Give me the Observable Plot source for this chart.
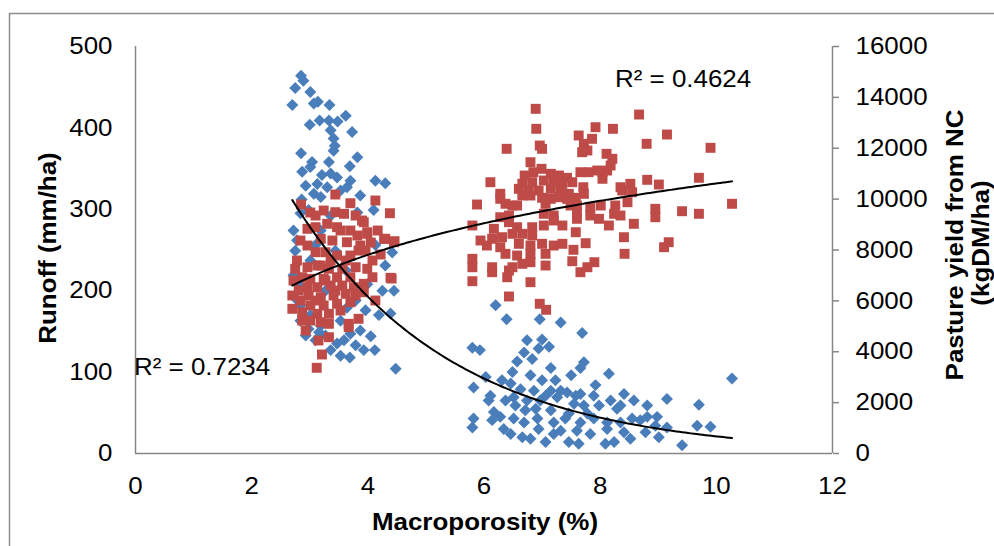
<!DOCTYPE html>
<html><head><meta charset="utf-8">
<script src="https://cdn.jsdelivr.net/npm/d3@7"></script>
<script src="https://cdn.jsdelivr.net/npm/@observablehq/plot@0.6"></script>
<style>html,body{margin:0;padding:0;background:#fff;} #chart{width:994px;height:546px;overflow:hidden}</style>
</head><body><div id="chart"></div>
<script>
// ---- Data ----
// Runoff (mm/ha) vs macroporosity (%) — left axis, blue diamonds
const runoffLow = [
[2.85,464],[2.89,458],[2.75,449],[3.01,444],[2.70,428],[3.07,430],[3.14,432],[3.34,428],[3.62,415],[3.17,409],
[3.00,404],[3.33,409],[3.48,408],[3.73,395],[3.36,397],[3.41,387],[3.43,378],[3.41,372],[2.85,369],[3.82,364],
[3.04,358],[3.33,358],[3.69,353],[2.87,346],[3.01,352],[3.21,342],[3.36,344],[3.47,339],[3.13,331],[4.13,335],
[4.30,332],[3.30,327],[3.64,327],[3.19,315],[2.86,312],[4.10,299],[2.84,295],[2.98,299],[3.82,296],[2.78,262],
[3.07,319],[3.53,323],[2.93,329],[3.87,317],[3.70,335],[2.72,274],[2.75,249],[2.72,219],[2.84,206],[2.79,188],
[4.25,200],[4.45,200],[4.19,170],[4.39,172],[3.99,208],[4.42,247],[4.30,231],[4.13,256],[3.64,179],[4.05,144],
[3.79,133],[3.93,127],[4.12,127],[3.69,118],[4.48,104],[3.59,139],[3.47,135],[3.16,149],[2.98,153],[3.87,151],
[3.70,147],[2.84,163],[2.93,145],[3.10,139],[3.27,145],[3.36,127],[3.53,120],[3.19,157],[3.01,170],[2.84,182],
[3.19,274],[3.44,249],[3.62,225],[3.27,200],[3.01,237],[3.79,188],[3.53,163],[3.96,176],[3.36,292],[3.10,256]
];
const runoffHigh = [
[6.20,182],[6.39,165],[6.96,165],[7.32,161],[7.69,148],[5.80,130],[5.93,127],[6.74,139],[7.00,140],[7.12,131],
[6.69,124],[6.83,116],[6.57,113],[6.94,129],[7.72,112],[7.66,105],[7.15,105],[7.50,96],[8.15,98],[10.27,92],
[5.82,81],[6.03,94],[6.31,90],[6.46,86],[6.63,79],[6.86,77],[7.00,90],[7.15,77],[7.32,77],[7.43,75],
[6.37,65],[6.51,69],[6.74,65],[6.97,65],[7.26,69],[7.66,73],[7.89,71],[8.41,73],[8.58,65],[8.81,59],
[9.15,67],[9.70,60],[8.98,45],[8.18,65],[8.29,55],[7.98,59],[7.72,59],[7.55,61],[7.78,49],[7.46,49],
[7.15,53],[6.89,55],[6.71,53],[6.17,51],[5.82,43],[5.80,32],[6.14,41],[6.28,45],[6.51,43],[6.69,38],
[6.92,43],[7.20,38],[7.40,43],[7.66,38],[7.89,43],[8.12,38],[8.35,38],[8.55,43],[8.81,45],[8.95,34],
[9.15,32],[9.67,34],[9.90,33],[6.34,30],[6.46,24],[6.66,20],[6.80,18],[7.06,14],[7.20,24],[7.46,14],
[7.63,12],[7.83,24],[8.09,12],[8.24,14],[8.52,18],[8.78,26],[9.01,20],[9.41,10],[8.12,30],[8.41,26],
[7.60,28],[6.94,30],[7.32,28],[6.11,71],[6.54,59],[7.06,71],[6.80,96],[7.23,90],[7.92,84],[8.35,59],
[8.69,41],[7.58,71],[6.49,100],[6.08,65]
];
// Pasture yield from NC (kgDM/ha) vs macroporosity (%) — right axis, red squares
const yieldLow = [
[3.44,10181],[2.85,9788],[3.70,9839],[4.13,9945],[4.38,9446],[3.24,9552],[3.44,9486],[3.59,9423],[3.90,9159],[3.99,8699],
[4.17,8766],[4.30,8440],[4.46,8346],[2.96,8833],[3.10,8896],[3.30,9030],[3.47,8896],[3.70,8766],[3.82,8570],[3.19,8440],
[3.39,8373],[3.64,8306],[3.84,7980],[4.22,7823],[4.08,7587],[2.96,8176],[3.10,7913],[3.27,7913],[3.47,7783],[3.70,7783],
[2.78,7587],[2.75,7261],[2.96,7323],[3.13,7390],[3.33,7261],[3.56,7261],[3.79,7323],[3.99,7261],[4.08,6930],[3.70,6930],
[3.47,6930],[3.24,6867],[3.01,6867],[2.87,6930],[4.39,6907],[3.93,6671],[3.76,6537],[3.56,6604],[3.36,6604],[3.13,6537],
[2.96,6537],[2.81,6408],[3.93,6341],[3.79,6211],[3.62,6278],[3.41,6211],[3.19,6144],[2.98,6211],[2.84,6014],[3.70,5948],
[3.47,5885],[3.24,5818],[3.01,5818],[2.70,5688],[2.87,5555],[3.13,5492],[3.33,5492],[3.01,5228],[2.87,5228],[3.19,5161],
[3.33,5099],[3.67,5099],[3.84,5295],[3.33,4572],[4.41,6879],[3.21,3892],[3.12,3369],[3.67,4965],[3.93,9093],[4.45,8306],
[4.28,8440],[3.99,8636],[3.10,9355],[3.53,8766],[3.87,8176],[2.84,8373],[3.62,7587],[3.19,7390],[3.44,6408],[3.27,6800],
[3.53,5621],[3.10,6014],[2.93,4835],[3.15,4442],[3.36,7587],[3.79,9355],[3.96,7980],[2.72,6800],[2.70,6211],[4.13,6014],
[4.05,8294],[3.01,9474]
];
const yieldHigh = [
[6.89,13550],[8.67,13326],[6.90,12764],[7.92,12827],[8.22,12764],[9.15,12540],[6.39,11978],[6.96,12107],[7.00,11978],[7.63,12501],
[7.86,12371],[7.72,12174],[7.69,11844],[7.78,11911],[8.80,12174],[9.90,12017],[8.11,11781],[8.21,11585],[6.80,11451],[8.18,11321],
[8.04,11058],[8.12,11125],[6.70,10928],[6.85,11058],[6.99,11192],[7.15,10995],[7.29,10928],[7.43,10838],[7.66,11058],[7.80,11058],
[7.95,11125],[8.04,10799],[6.11,10665],[6.66,10602],[6.83,10665],[7.03,10732],[7.20,10665],[7.35,10602],[7.52,10665],[7.71,10468],
[8.35,10468],[8.52,10602],[8.81,10759],[9.01,10574],[9.70,10838],[6.60,10405],[6.77,10339],[6.94,10339],[7.15,10405],[7.32,10339],
[7.46,10209],[7.72,10209],[6.28,10209],[8.38,10339],[8.55,10272],[5.88,9788],[6.28,10012],[6.37,9816],[6.66,10142],[6.80,10142],
[7.00,10052],[7.15,10012],[7.29,10075],[7.43,10012],[7.58,10052],[7.06,9816],[6.49,9749],[6.57,9749],[7.49,9749],[7.60,9749],
[7.83,9682],[8.01,9749],[8.26,9749],[8.47,9879],[10.27,9816],[8.95,9619],[9.41,9525],[9.70,9423],[8.95,9289],[6.28,9289],
[6.43,9356],[7.03,9423],[7.20,9356],[7.60,9486],[7.83,9356],[7.98,9226],[8.24,9423],[8.35,9356],[5.80,8963],[6.17,8833],
[6.43,9093],[6.57,8896],[6.83,8896],[7.03,8963],[7.20,9159],[7.35,8963],[7.60,9226],[8.15,8963],[8.58,9030],[7.58,8699],
[5.94,8373],[6.14,8440],[6.31,8503],[6.49,8636],[6.66,8636],[6.83,8570],[8.41,8503],[6.05,8176],[6.28,8110],[6.60,8243],
[6.80,8176],[7.00,8243],[7.20,8176],[7.35,8243],[7.75,8267],[9.18,8306],[9.10,8110],[6.37,7850],[6.57,7783],[6.80,7850],
[7.06,7850],[7.54,8007],[8.42,7850],[5.80,7654],[5.80,7323],[6.14,7323],[6.14,7127],[6.49,7323],[6.66,7457],[6.80,7520],
[7.06,7390],[7.52,7559],[7.66,7127],[7.78,7323],[7.90,7520],[5.80,6773],[6.40,6930],[6.80,6734],[6.43,7194],[6.43,6172],
[6.96,5885],[7.07,5649]
];
// Excel trendlines as labelled on the chart
const runoffTrend = {a: 843, b: -0.369, label: "R² = 0.7234"};   // exponential: a·e^(b·x)
const yieldTrend  = {a: 3064, b: 3561, label: "R² = 0.4624"};    // logarithmic: a·ln(x)+b
// Axis ticks
const xTicks = [0, 2, 4, 6, 8, 10, 12];
const runoffTicks = [0, 100, 200, 300, 400, 500];
const yieldTicks = [0, 2000, 4000, 6000, 8000, 10000, 12000, 14000, 16000];
const runoffMax = 500, yieldMax = 16000;
const ratio = yieldMax / runoffMax;

// ---- Build ----
const blue = "#4A7EBB", red = "#BE4B48", gray = "#868686";
const FONT = "'Liberation Sans', Arial, sans-serif";
const runoffData = [...runoffLow, ...runoffHigh].map(([x, y]) => ({x, y}));
const yieldData = [...yieldLow, ...yieldHigh].map(([x, kg]) => ({x, kg, y: kg / ratio}));

function fitCurve(data, f) {
  const [x0, x1] = d3.extent(data, d => d.x);
  return d3.range(0, 151).map(i => { const x = x0 + (x1 - x0) * i / 150; return {x, y: f(x)}; });
}
const runoffFit = fitCurve(runoffData, x => runoffTrend.a * Math.exp(runoffTrend.b * x));
const yieldFit = fitCurve(yieldData, x => (yieldTrend.a * Math.log(x) + yieldTrend.b) / ratio);

const plot = Plot.plot({
  width: 994, height: 546,
  marginLeft: 135, marginRight: 162, marginTop: 46, marginBottom: 93,
  style: {fontFamily: FONT, fontSize: "24px", color: "#000", background: "transparent", overflow: "visible"},
  x: {domain: [0, 12], label: null},
  y: {domain: [0, runoffMax], label: null},
  marks: [
    Plot.ruleX([0], {stroke: gray, strokeWidth: 1.5}),
    Plot.ruleX([12], {stroke: gray, strokeWidth: 1.5}),
    Plot.ruleY([0], {stroke: gray, strokeWidth: 1.5}),
    Plot.axisX(xTicks, {tickSize: 0, tickPadding: 23, fontSize: 24, label: null, tickFormat: d => String(d)}),
    Plot.axisY(runoffTicks, {anchor: "left", tickSize: 0, tickPadding: 23, fontSize: 24, label: null, tickFormat: d => String(d)}),
    Plot.axisY(yieldTicks.map(v => v / ratio), {anchor: "right", tickSize: 6, tickPadding: 17, stroke: gray, strokeWidth: 1.5,
      fontSize: 24, label: null, tickFormat: d => String(Math.round(d * ratio))}),
    Plot.dot(runoffData, {x: "x", y: "y", symbol: "diamond2", r: 5.4, fill: blue}),
    Plot.dot(yieldData, {x: "x", y: "y", symbol: "square", r: 5.6, fill: red}),
    Plot.line(runoffFit, {x: "x", y: "y", stroke: "#000", strokeWidth: 2}),
    Plot.line(yieldFit, {x: "x", y: "y", stroke: "#000", strokeWidth: 2})
  ]
});
document.getElementById("chart").appendChild(plot);

const svg = d3.select(plot);
svg.insert("path", ":first-child").attr("d", "M9.5,546V13.5H994").attr("fill", "none").attr("stroke", "#8c8c8c").attr("stroke-width", 1.5);
function addText(t, x, y, opts = {}) {
  const el = svg.append("text").text(t)
    .attr("font-family", FONT).attr("font-size", 24).attr("fill", "#000")
    .attr("text-anchor", opts.anchor || "start")
    .attr("font-weight", opts.bold ? "bold" : null)
    .attr("transform", `translate(${x},${y})` + (opts.rotate ? ` rotate(${opts.rotate})` : ""));
  return el;
}
addText(yieldTrend.label, 615, 87);
addText(runoffTrend.label, 134, 375);
addText("Macroporosity (%)", 485, 530, {anchor: "middle", bold: true});
addText("Runoff (mm/ha)", 56, 248, {anchor: "middle", bold: true, rotate: -90});
addText("Pasture yield from NC", 963, 245, {anchor: "middle", bold: true, rotate: -90});
addText("(kgDM/ha)", 989, 243, {anchor: "middle", bold: true, rotate: -90});

// the original font renders slightly wider than Arial: stretch glyphs along the text direction
plot.querySelectorAll("text").forEach(t => {
  const L = t.getComputedTextLength();
  if (L > 0) { t.setAttribute("textLength", (L * 1.08).toFixed(1)); t.setAttribute("lengthAdjust", "spacingAndGlyphs"); }
});
</script>
</body></html>
